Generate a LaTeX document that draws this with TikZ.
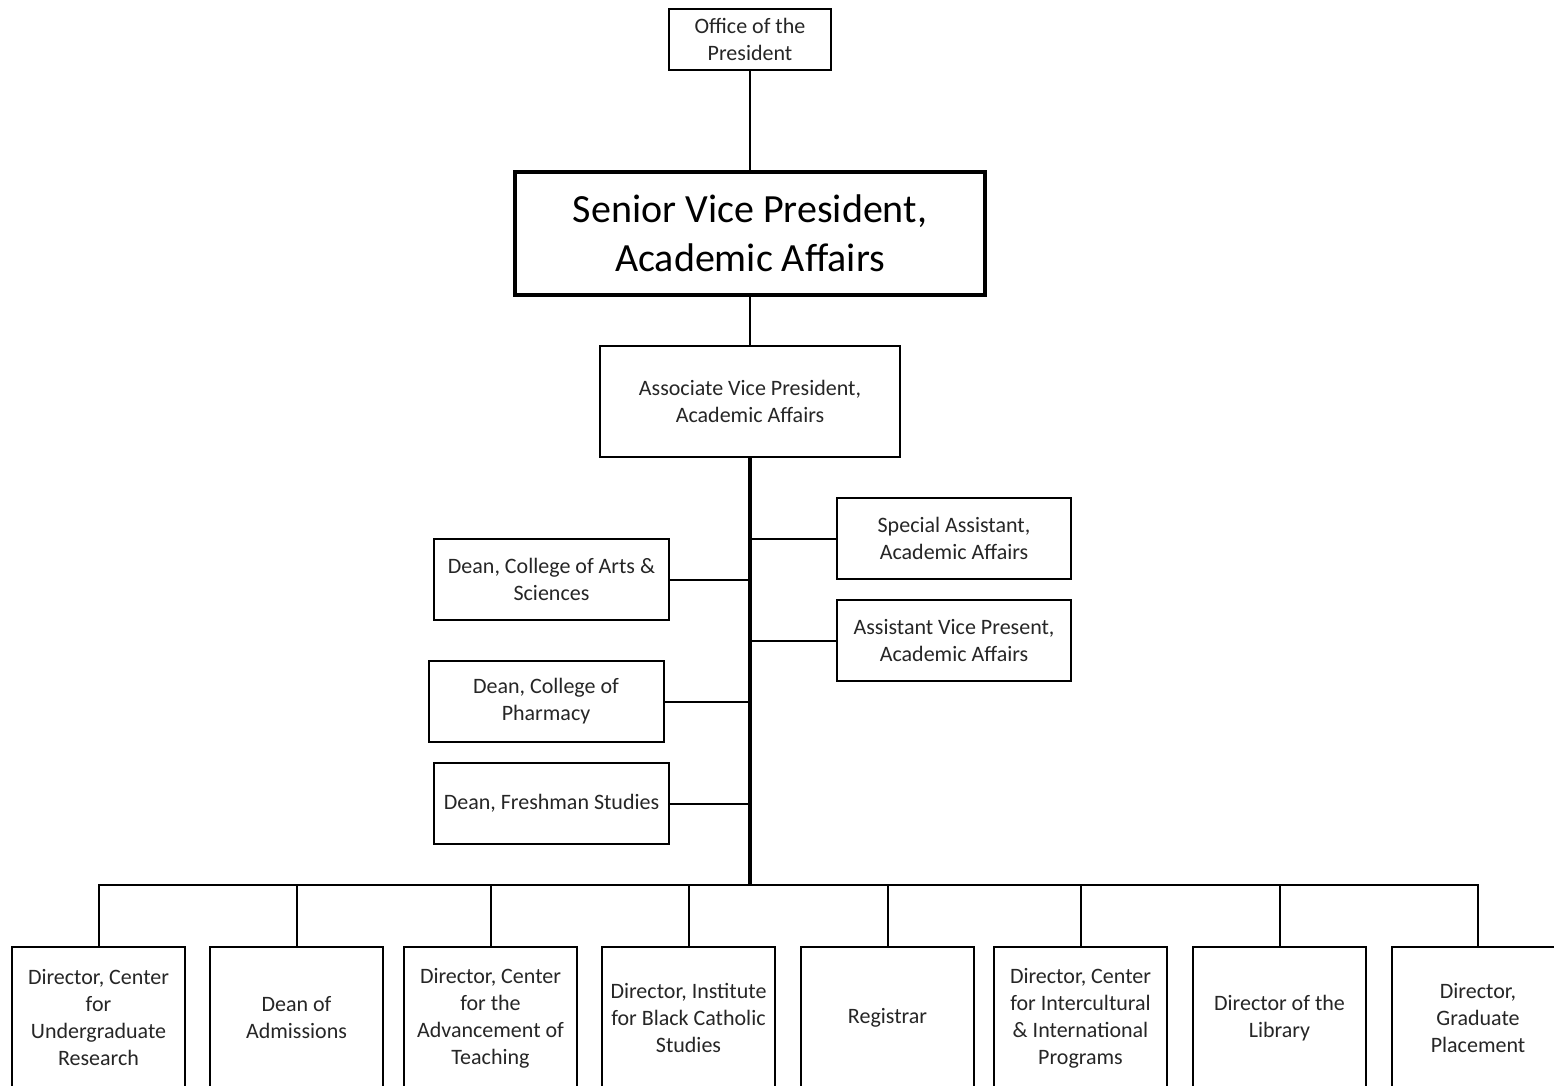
\documentclass[tikz,border=0pt]{standalone}
\usepackage{fontspec}
\setmainfont{Carlito}
\begin{document}
\begin{tikzpicture}[x=0.5pt,y=-0.5pt,
  box/.style={draw=black, line width=1pt, fill=white, inner sep=0pt, align=center,
    font=\fontsize{11}{13.5}\selectfont, text=black!85},
  bigbox/.style={box, line width=2pt, font=\fontsize{20}{24.5}\selectfont, text=black},
  side/.style={box, minimum width=117pt, minimum height=40.5pt},
  bot/.style={box, minimum width=86.5pt, minimum height=71pt, anchor=north},
  conn/.style={draw=black, line width=1pt},
  trunk/.style={draw=black, line width=1.7pt}]
\clip (0,0) rectangle (1554,1086);
\fill[white] (0,0) rectangle (1554,1086);

\node[box, minimum width=81pt, minimum height=30.5pt] (office) at (750,39.5) {Office of the\\President};
\node[bigbox, minimum width=235pt, minimum height=61.5pt] (senior) at (750,233.5) {Senior Vice President,\\Academic Affairs};
\node[box, minimum width=150pt, minimum height=55.5pt] (assoc) at (750,401.5) {Associate Vice President,\\Academic Affairs};

\node[side] (special) at (954,538.5) {Special Assistant,\\Academic Affairs};
\node[side] (asstvp) at (954,640.5) {Assistant Vice Present,\\Academic Affairs};
\node[side, minimum width=117.5pt] (arts) at (551.5,579.5) {Dean, College of Arts \&\\Sciences};
\node[side, minimum width=117.5pt] (pharm) at (546,701.5) {Dean, College of\\Pharmacy};
\node[side, minimum width=117.5pt] (fresh) at (551.5,803.5) {Dean, Freshman Studies};

\coordinate (bus) at (750,885);

\node[bot] (b1) at (98.5,946) {Director, Center\\for\\Undergraduate\\Research};
\node[bot] (b2) at (296.5,946) {Dean of\\Admissions};
\node[bot] (b3) at (490.5,946) {Director, Center\\for the\\Advancement of\\Teaching};
\node[bot] (b4) at (688.5,946) {Director, Institute\\for Black Catholic\\Studies};
\node[bot] (b5) at (887.5,946) {Registrar};
\node[bot] (b6) at (1080.5,946) {Director, Center\\for Intercultural\\\& International\\Programs};
\node[bot] (b7) at (1279.5,946) {Director of the\\Library};
\node[bot] (b8) at (1478,946) {Director,\\Graduate\\Placement};

\draw[conn] (office.south) -- (senior.north);
\draw[conn] (senior.south) -- (assoc.north);
\draw[trunk] (assoc.south) -- (bus);

\draw[conn] (special.west) -- (special.west -| assoc.south);
\draw[conn] (asstvp.west) -- (asstvp.west -| assoc.south);
\draw[conn] (arts.east) -- (arts.east -| assoc.south);
\draw[conn] (pharm.east) -- (pharm.east -| assoc.south);
\draw[conn] (fresh.east) -- (fresh.east -| assoc.south);

\draw[conn] (b1.north) -- (b1.north |- bus) -- (b8.north |- bus) -- (b8.north);
\foreach \b in {b2,b3,b4,b5,b6,b7}{
  \draw[conn] (\b.north) -- (\b.north |- bus);
}
\end{tikzpicture}
\end{document}
